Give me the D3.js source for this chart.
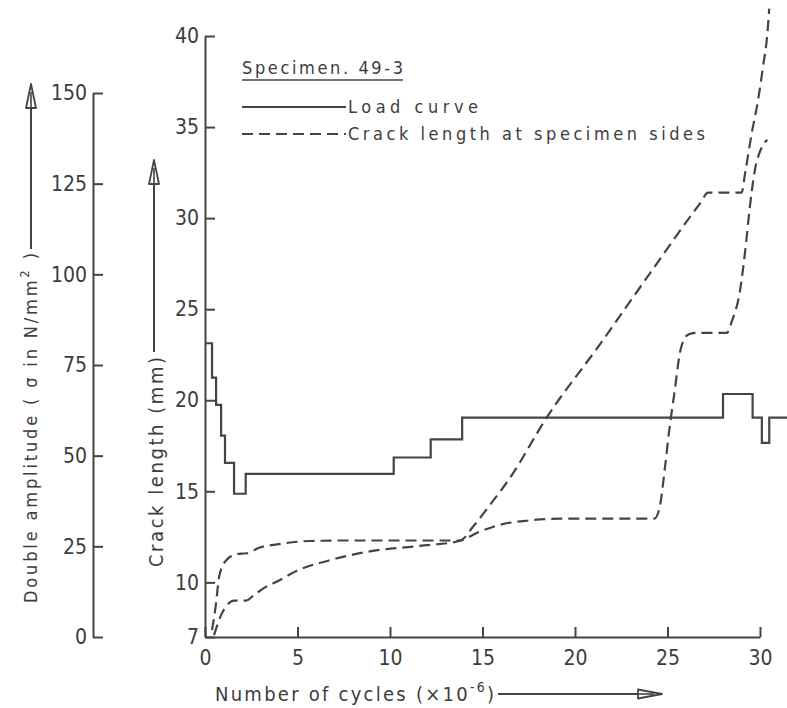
<!DOCTYPE html>
<html>
<head>
<meta charset="utf-8">
<script src="https://cdn.jsdelivr.net/npm/d3@7"></script>
<style>
  body { margin: 0; background: #fff; }
  svg { display: block; }
  text { font-family: "DejaVu Sans Condensed", "DejaVu Sans", sans-serif; fill: #3d3d3d; }
</style>
</head>
<body>
<svg id="chart" width="787" height="708"></svg>
<script>
// Fatigue test, specimen 49-3: load history and crack growth

// axis ticks
const cycleTicks = [0, 5, 10, 15, 20, 25, 30];          // cycles ×10^6
const crackTicks = [7, 10, 15, 20, 25, 30, 35, 40];     // mm
const ampTicks   = [0, 25, 50, 75, 100, 125, 150];      // N/mm²

// load curve: cycle count where each load block starts, and its double amplitude
const loadCycles = [0, 0.38, 0.6, 0.87, 1.08, 1.57, 2.2, 10.2, 12.2, 13.9, 28.0, 29.6, 30.1, 30.5, 31.5];
const loadAmp    = [81, 71.5, 64, 55.5, 48, 39.5, 45, 49.5, 54.5, 60.5, 67, 60.5, 53.5, 60.5, 60.5];

// crack length at the two specimen sides
const sideACycles = [0.38, 0.6, 0.76, 1.14, 1.68, 2.27, 2.92, 4.0, 5.6, 7.8, 10.5, 13.75, 14.56, 15.4, 16.46, 18.5, 21.3, 24.0, 26.75, 27.2, 29.0, 29.2, 29.56, 29.9, 30.16, 30.4, 30.5];
const sideAmm     = [7.38, 8.87, 10.3, 11.2, 11.55, 11.6, 11.9, 12.1, 12.27, 12.3, 12.3, 12.3, 13.15, 14.25, 15.7, 19.1, 23.0, 26.9, 30.8, 31.4, 31.4, 32.5, 34.7, 36.5, 38.3, 40.15, 41.5];
const sideBCycles = [0.49, 0.87, 1.19, 1.57, 2.22, 2.65, 3.2, 4.0, 5.1, 6.7, 8.9, 11.6, 13.75, 14.8, 15.9, 17.5, 19.2, 24.3, 24.6, 24.85, 25.1, 25.4, 25.7, 26.1, 26.5, 28.2, 28.5, 28.9, 29.2, 29.45, 29.7, 30.1, 30.4];
const sideBmm     = [7.1, 8.2, 8.75, 9.0, 9.0, 9.3, 9.7, 10.1, 10.7, 11.2, 11.7, 12.0, 12.27, 12.76, 13.15, 13.4, 13.5, 13.5, 14.25, 16.2, 18.4, 20.6, 22.75, 23.6, 23.7, 23.7, 24.4, 25.9, 28.2, 30.6, 32.5, 33.9, 34.3];

const INK = "#444";
const svg = d3.select("#chart");

const x = d3.scaleLinear().domain([0, 30]).range([205, 760]);
const yCrack = d3.scaleLinear().domain([7, 40]).range([637, 36]);
const yAmp = d3.scaleLinear().domain([0, 150]).range([637, 93]);

function styleAxis(g) {
  g.attr("font-family", null).attr("font-size", 21);
  g.selectAll("path, line").attr("stroke", INK).attr("stroke-width", 2);
  g.selectAll("text").attr("fill", "#3d3d3d");
}

// cycles axis
svg.append("g")
  .attr("transform", "translate(0,637)")
  .call(d3.axisBottom(x).tickValues(cycleTicks).tickSize(-10).tickSizeOuter(0).tickPadding(13))
  .call(styleAxis);

// crack length axis
svg.append("g")
  .attr("transform", "translate(205,0)")
  .call(d3.axisLeft(yCrack).tickValues(crackTicks).tickSize(-10).tickSizeOuter(0).tickPadding(6))
  .call(styleAxis);

// double amplitude axis
svg.append("g")
  .attr("transform", "translate(93,0)")
  .call(d3.axisLeft(yAmp).tickValues(ampTicks).tickSize(-10).tickSizeOuter(0).tickPadding(6))
  .call(styleAxis);

// spread letters so a label fills the given length
function fit(sel, target) {
  const node = sel.node();
  const n = node.textContent.length;
  const w = node.getComputedTextLength();
  sel.style("letter-spacing", ((target - w) / Math.max(n - 1, 1)) + "px");
}

function arrowUp(xp, fromY, tipY) {
  svg.append("line").attr("x1", xp).attr("x2", xp).attr("y1", fromY).attr("y2", tipY + 4)
    .attr("stroke", INK).attr("stroke-width", 2);
  svg.append("path")
    .attr("d", `M${xp - 5},${tipY + 24}L${xp},${tipY}L${xp + 5},${tipY + 24}Z`)
    .attr("fill", "#fff").attr("stroke", INK).attr("stroke-width", 1.8).attr("stroke-linejoin", "round");
  svg.append("line").attr("x1", xp).attr("x2", xp).attr("y1", tipY + 24).attr("y2", tipY + 8)
    .attr("stroke", INK).attr("stroke-width", 1.6);
}

function arrowRight(fromX, tipX, yp) {
  svg.append("line").attr("x1", fromX).attr("x2", tipX - 4).attr("y1", yp).attr("y2", yp)
    .attr("stroke", INK).attr("stroke-width", 2);
  svg.append("path")
    .attr("d", `M${tipX - 24},${yp - 4.5}L${tipX},${yp}L${tipX - 24},${yp + 4.5}Z`)
    .attr("fill", "#fff").attr("stroke", INK).attr("stroke-width", 1.8).attr("stroke-linejoin", "round");
  svg.append("line").attr("x1", tipX - 24).attr("x2", tipX - 8).attr("y1", yp).attr("y2", yp)
    .attr("stroke", INK).attr("stroke-width", 1.6);
}

// left axis title
const ampTitle = svg.append("text")
  .attr("transform", "translate(37,603) rotate(-90)")
  .attr("font-size", 18);
ampTitle.append("tspan").text("Double amplitude ( σ in N/mm");
ampTitle.append("tspan").attr("font-size", 13).attr("dy", -8).text("2");
ampTitle.append("tspan").attr("dy", 8).text(" )");
fit(ampTitle, 350);
arrowUp(31, 249, 84);

// crack axis title
const crackTitle = svg.append("text")
  .attr("transform", "translate(163,567) rotate(-90)")
  .attr("font-size", 20)
  .text("Crack length (mm)");
fit(crackTitle, 210);
arrowUp(154, 352, 160);

// cycles axis title
const cycTitle = svg.append("text")
  .attr("x", 215).attr("y", 701)
  .attr("font-size", 20);
cycTitle.append("tspan").text("Number of cycles (×10");
cycTitle.append("tspan").attr("font-size", 14).attr("dy", -9).text("-6");
cycTitle.append("tspan").attr("dy", 9).text(")");
fit(cycTitle, 279);
arrowRight(498, 662, 694);

// curves
const loadLine = d3.line()
  .x(d => x(d[0])).y(d => yAmp(d[1]))
  .curve(d3.curveStepAfter);
svg.append("path")
  .datum(d3.zip(loadCycles, loadAmp))
  .attr("d", loadLine)
  .attr("fill", "none").attr("stroke", INK).attr("stroke-width", 2.2);

const crackLine = d3.line()
  .x(d => x(d[0])).y(d => yCrack(d[1]))
  .curve(d3.curveMonotoneX);
[[sideACycles, sideAmm], [sideBCycles, sideBmm]].forEach(([c, m]) => {
  svg.append("path")
    .datum(d3.zip(c, m))
    .attr("d", crackLine)
    .attr("fill", "none").attr("stroke", INK).attr("stroke-width", 2.2)
    .attr("stroke-dasharray", "11,6");
});

// legend
const spec = svg.append("text").attr("x", 242).attr("y", 74).attr("font-size", 18).text("Specimen. 49-3");
fit(spec, 161);
svg.append("line").attr("x1", 242).attr("x2", 403).attr("y1", 80).attr("y2", 80)
  .attr("stroke", INK).attr("stroke-width", 1.6);

svg.append("line").attr("x1", 242).attr("x2", 346).attr("y1", 107).attr("y2", 107)
  .attr("stroke", INK).attr("stroke-width", 2);
const lg1 = svg.append("text").attr("x", 348).attr("y", 113).attr("font-size", 18).text("Load curve");
fit(lg1, 130);

svg.append("line").attr("x1", 242).attr("x2", 346).attr("y1", 134).attr("y2", 134)
  .attr("stroke", INK).attr("stroke-width", 2).attr("stroke-dasharray", "11,6");
const lg2 = svg.append("text").attr("x", 348).attr("y", 140).attr("font-size", 18).text("Crack length at specimen sides");
fit(lg2, 357);
</script>
</body>
</html>
